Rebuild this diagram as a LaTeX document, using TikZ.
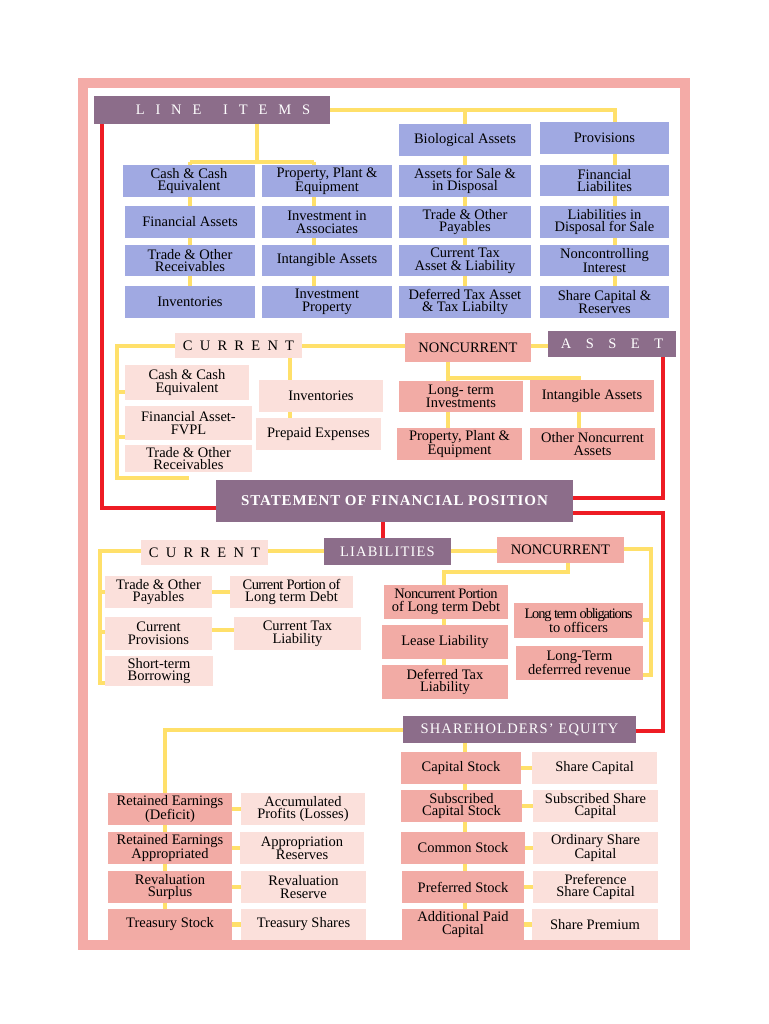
\documentclass[tikz,border=0pt]{standalone}
\usepackage{fontspec}
\setmainfont{Liberation Serif}
\usetikzlibrary{backgrounds,calc}
\definecolor{bl}{HTML}{A0A9E2}
\definecolor{pu}{HTML}{8C6D8A}
\definecolor{lp}{HTML}{FBE0DB}
\definecolor{mp}{HTML}{F2ABA5}
\definecolor{yl}{HTML}{FFE06A}
\definecolor{rd}{HTML}{EE1C24}
\definecolor{fr}{HTML}{F4ABA7}
\newcommand{\B}[7]{\node[#2, minimum width={(#5-#3)*1pt}, minimum height={(#6-#4)*1pt}] (#1) at ({(#3+#5)/2},{(#4+#6)/2}) {#7};}
\tikzset{
 box/.style={inner sep=0pt, align=center, font=\fontsize{14.5}{12.6}\selectfont},
 blue/.style={box, fill=bl},
 purp/.style={box, fill=pu, text=white},
 lpk/.style={box, fill=lp},
 mpk/.style={box, fill=mp},
 yline/.style={draw=yl, line width=4.5pt},
 rline/.style={draw=rd, line width=4pt},
}
\begin{document}
\begin{tikzpicture}[x=1pt,y=-1pt]
\useasboundingbox (0,0) rectangle (768,1024);
% top
\B{li}{purp}{94}{96}{330}{124}{\hspace*{22pt}L\ \ \ I\ \ \ N\ \ \ E\ \ \ \ \ \ I\ \ \ T\ \ \ E\ \ \ M\ \ \ S\hfill}
\B{a1}{blue}{123}{165}{255}{197}{Cash \& Cash\\Equivalent}
\B{a2}{blue}{125}{206}{255}{238}{Financial Assets}
\B{a3}{blue}{125}{245}{255}{276}{Trade \& Other\\Receivables}
\B{a4}{blue}{125}{286}{255}{318}{Inventories}
\B{b1}{blue}{262}{165}{392}{197}{Property, Plant \&\\Equipment}
\B{b2}{blue}{262}{206}{392}{238}{Investment in\\Associates}
\B{b3}{blue}{262}{245}{392}{276}{Intangible Assets}
\B{b4}{blue}{262}{286}{392}{318}{Investment\\Property}
\B{c0}{blue}{399}{124}{531}{156}{Biological Assets}
\B{c1}{blue}{399}{165}{531}{197}{Assets for Sale \&\\in Disposal}
\B{c2}{blue}{399}{206}{531}{238}{Trade \& Other\\Payables}
\B{c3}{blue}{399}{245}{531}{276}{Current Tax\\Asset \& Liability}
\B{c4}{blue}{399}{286}{531}{318}{Deferred Tax Asset\\\& Tax Liabilty}
\B{d0}{blue}{540}{122}{669}{154}{Provisions}
\B{d1}{blue}{540}{165}{669}{196}{Financial\\Liabilites}
\B{d2}{blue}{540}{206}{669}{238}{Liabilities in\\Disposal for Sale}
\B{d3}{blue}{540}{245}{669}{276}{Noncontrolling\\Interest}
\B{d4}{blue}{540}{286}{669}{318}{Share Capital \&\\Reserves}
% asset
\B{ac}{lpk}{175}{333}{302}{358}{C\ \ U\ \ R\ \ R\ \ E\ \ N\ \ T}
\B{an}{mpk}{405}{333}{531}{362}{NONCURRENT}
\B{as}{purp}{548}{331}{676}{357}{A\ \ \ \ S\ \ \ \ S\ \ \ \ E\ \ \ \ T}
\B{e1}{lpk}{125}{365}{249}{400}{Cash \& Cash\\Equivalent}
\B{e2}{lpk}{125}{406}{252}{440}{Financial Asset-\\FVPL}
\B{e3}{lpk}{125}{445}{252}{472}{Trade \& Other\\Receivables}
\B{f1}{lpk}{259}{380}{383}{412}{Inventories}
\B{f2}{lpk}{256}{418}{381}{450}{Prepaid Expenses}
\B{g1}{mpk}{399}{381}{523}{412}{Long- term\\Investments}
\B{g2}{mpk}{397}{428}{522}{460}{Property, Plant \&\\Equipment}
\B{h1}{mpk}{530}{380}{654}{412}{Intangible Assets}
\B{h2}{mpk}{530}{428}{655}{460}{Other Noncurrent\\Assets}
\B{sfp}{purp}{216}{480}{573}{522}{\bfseries\fontsize{15}{15}\selectfont\addfontfeatures{LetterSpace=6}STATEMENT OF FINANCIAL POSITION}
% liabilities
\B{lb}{purp}{324}{538}{451}{565}{\addfontfeatures{LetterSpace=8}LIABILITIES}
\B{lc}{lpk}{141}{540}{268}{565}{C\ \ U\ \ R\ \ R\ \ E\ \ N\ \ T}
\B{ln}{mpk}{497}{537}{624}{563}{NONCURRENT}
\B{i1}{lpk}{105}{576}{212}{608}{Trade \& Other\\Payables}
\B{i2}{lpk}{105}{617}{212}{650}{Current\\Provisions}
\B{i3}{lpk}{105}{656}{213}{686}{Short-term\\Borrowing}
\B{j1}{lpk}{230}{576}{353}{608}{\addfontfeatures{LetterSpace=-4}Current Portion of\\Long term Debt}
\B{j2}{lpk}{234}{617}{361}{650}{Current Tax\\Liability}
\B{k1}{mpk}{384}{585}{508}{619}{\addfontfeatures{LetterSpace=-4}Noncurrent Portion\\of Long term Debt}
\B{k2}{mpk}{382}{625}{508}{659}{Lease Liability}
\B{k3}{mpk}{382}{665}{508}{699}{Deferred Tax\\Liability}
\B{m1}{mpk}{514}{603}{643}{638}{\addfontfeatures{LetterSpace=-8}Long term obligations\\to officers}
\B{m2}{mpk}{516}{646}{643}{680}{Long-Term\\deferrred revenue}
% equity
\B{se}{purp}{403}{716}{636}{743}{\addfontfeatures{LetterSpace=8}SHAREHOLDERS' EQUITY}
\B{n1}{mpk}{401}{752}{521}{784}{Capital Stock}
\B{n2}{mpk}{401}{790}{522}{822}{Subscribed\\Capital Stock}
\B{n3}{mpk}{401}{832}{525}{864}{Common Stock}
\B{n4}{mpk}{402}{871}{524}{903}{Preferred Stock}
\B{n5}{mpk}{402}{909}{524}{940}{Additional Paid\\Capital}
\B{o1}{lpk}{532}{752}{657}{784}{Share Capital}
\B{o2}{lpk}{533}{790}{658}{822}{Subscribed Share\\Capital}
\B{o3}{lpk}{533}{832}{658}{864}{Ordinary Share\\Capital}
\B{o4}{lpk}{533}{871}{658}{903}{Preference\\Share Capital}
\B{o5}{lpk}{532}{909}{658}{940}{Share Premium}
\B{p1}{mpk}{108}{793}{232}{825}{Retained Earnings\\(Deficit)}
\B{p2}{mpk}{108}{832}{232}{864}{Retained Earnings\\Appropriated}
\B{p3}{mpk}{108}{871}{232}{903}{Revaluation\\Surplus}
\B{p4}{mpk}{108}{909}{232}{940}{Treasury Stock}
\B{q1}{lpk}{241}{793}{365}{825}{Accumulated\\Profits (Losses)}
\B{q2}{lpk}{240}{832}{364}{864}{Appropriation\\Reserves}
\B{q3}{lpk}{241}{871}{366}{903}{Revaluation\\Reserve}
\B{q4}{lpk}{241}{909}{366}{940}{Treasury Shares}
\begin{scope}[on background layer]
\fill[white] (0,0) rectangle (768,1024);
\fill[fr] (78,78) rectangle (690,950);
\fill[white] (88,88) rectangle (680,940);
% top yellow
\draw[yline] (li.east) -- (615,110) coordinate (t4) -- (t4 |- d4.center);
\draw[yline] (465,110) coordinate (t3) -- (t3 |- c4.center);
\draw[yline] (257,124) -- (257,162) coordinate (tm);
\draw[yline] (190,162) coordinate (t1) -- (314,162) coordinate (t2);
\draw[yline] (t1) -- (t1 |- a4.center);
\draw[yline] (t2) -- (t2 |- b4.center);
% asset yellow
\draw[yline] (ac.center |- 0,346) -- (as.center |- 0,346);
\draw[yline] (ac.center |- 0,346) -| (117,478) coordinate (cl) -- (cl -| e3.center);
\draw[yline] (117,392) -- (e1.center |- 117,392);
\draw[yline] (117,437) -- (e2.center |- 117,437);
\draw[yline] (290,358) -- (290,430);
\draw[yline] (448,362) -- (448,378) coordinate (nl) -- (579,378) coordinate (nr) -- (nr |- h2.center);
\draw[yline] (nl) -- (nl |- g2.center);
% liabilities yellow
\draw[yline] (lc.center |- 0,551) -- (ln.center |- 0,551);
\draw[yline] (lc.center |- 0,551) -| (100,683) coordinate (ll) -- (ll -| i3.center);
\draw[yline] (100,592) -- (i1.center |- 100,592);
\draw[yline] (100,632) -- (i2.center |- 100,632);
\draw[yline] (i1.center |- 100,592) -- (j1.center |- 100,592);
\draw[yline] (i2.center |- 100,630) -- (j2.center |- 100,630);
\draw[yline] (ln.center |- 0,549) -| (651,675) coordinate (lr) -- (lr -| m2.center);
\draw[yline] (651,620) -- (m1.center |- 651,620);
\draw[yline] (568,563) -- (568,572) -- (444,572) coordinate (kl) -- (kl |- k3.center);
% equity yellow
\draw[yline] (se.center |- 0,730) -| (165,793) coordinate (pl) -- (pl |- p4.center);
\draw[yline] (465,743) -- (465,925);
\foreach \a/\b in {n1/o1,n2/o2,n3/o3,n4/o4,n5/o5,p1/q1,p2/q2,p3/q3,p4/q4}
  \draw[yline] (\a.center) -- (\b.center);
% red
\draw[rline] (102,124) -- (102,508) -- (sfp.west |- 102,508);
\draw[rline] (sfp.east |- 0,498) -- (663,498) -- (663,357);
\draw[rline] (sfp.east |- 0,513) -- (663,513) -- (663,731) -- (se.east |- 0,731);
\draw[rline] (383,522) -- (383,538);
\end{scope}
\end{tikzpicture}
\end{document}
